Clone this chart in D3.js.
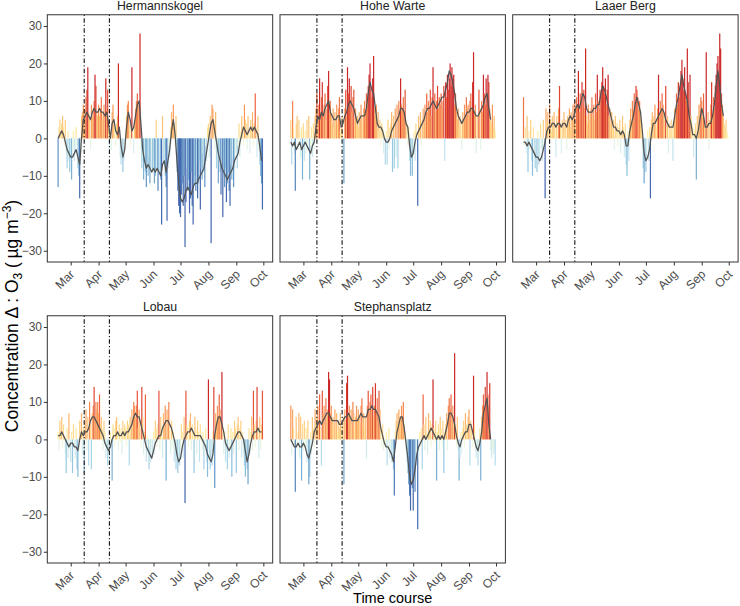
<!DOCTYPE html>
<html><head><meta charset="utf-8">
<script src="https://cdn.jsdelivr.net/npm/d3@7"></script>
<style>body{margin:0;background:#fff}svg{display:block;font-family:"Liberation Sans",Arial,sans-serif}</style>
</head><body><svg id="c" width="740" height="606"></svg>
<script>
const stations = ["Hermannskogel", "Hohe Warte", "Laaer Berg", "Lobau", "Stephansplatz"];
const firstDay = "2020-02-16";           // daily bars start here (one value per day)
const trendStepDays = 2;                 // trend values are read every 2nd day
const monthLabels = ["Mar", "Apr", "May", "Jun", "Jul", "Aug", "Sep", "Oct"];
const monthTickDays = ["2020-03-01","2020-04-01","2020-05-01","2020-06-01","2020-07-01","2020-08-01","2020-09-01","2020-10-01"];
const yTickValues = [-30, -20, -10, 0, 10, 20, 30];
const lockdownDays = ["2020-03-16", "2020-04-13"];
const xTitle = "Time course";

const hermannskogel = [
 -13,3,5,2,4,6,3,-2,5,-4,-8,2,-6,-9,
 -5,-11,-3,2,-6,-4,3,-2,-8,-10,-16,-5,6,7,9,4,8,11,13,19,7,5,-3,9,6,8,10,17,14,7,6,
 9,6,8,11,5,7,9,6,16,8,13,3,-4,2,-3,7,9,5,3,-2,4,6,20,3,-5,-7,-2,-9,-6,-3,
 2,6,9,10,4,-2,3,19,2,-4,5,8,10,12,9,7,28,-3,-8,-6,-11,-4,-9,-13,-7,-10,-5,-12,-8,-3,-9,
 -6,-12,-10,5,-8,-14,-9,-5,-11,-23,6,-7,-3,-10,-13,-22,-8,-2,-5,3,7,5,9,4,-2,6,-9,-14,-18,-20,
 -21,-15,-12,-18,-10,-29,-17,-8,-14,-11,-20,-16,-9,-18,-23,-12,-10,-14,-7,-16,-12,-6,-19,-8,-11,-4,-9,-13,-2,-6,3,
 4,-5,6,-28,9,8,5,-3,7,-8,-4,-12,-6,-9,-15,-7,-21,-10,-13,-8,-17,-12,-9,-14,-18,-7,-11,-5,-13,-8,-4,
 -3,-8,-2,4,-5,2,6,3,-2,9,5,4,-3,6,2,-4,5,3,7,-2,4,12,3,-5,6,-3,-7,-10,-12,-19
];
const hoheWarte = [
 5,-7,10,3,-4,-14,4,6,-3,5,2,-5,3,-11,
 4,-6,2,-4,5,-3,6,-11,-2,3,-5,4,-3,6,8,12,5,9,16,7,11,15,6,9,12,5,8,14,18,7,10,
 6,4,8,3,7,5,9,4,8,11,2,3,6,-4,-12,8,13,6,19,12,16,9,14,7,11,13,5,8,4,6,
 3,7,5,9,6,4,8,10,7,12,9,14,17,20,13,11,16,22,8,6,9,3,7,2,5,-2,4,3,-4,1,-7,
 2,-7,5,-3,3,4,7,-9,6,-8,8,-5,9,-8,10,7,16,9,8,11,7,13,5,4,-2,3,-6,-10,-4,-10,
 -3,2,-6,4,1,-18,6,3,7,-2,5,8,4,9,6,12,7,10,8,13,6,11,19,9,12,7,10,14,8,11,9,
 12,8,10,14,-6,15,11,17,13,16,20,14,19,16,17,9,12,7,5,8,3,6,4,-3,7,5,9,6,11,8,9,
 6,10,12,8,15,23,7,9,-4,6,4,13,8,-3,10,7,17,12,9,16,11,17,15,8,5,4,9,3,6,2
];
const laaerBerg = [
 11,-2,3,-4,6,-9,2,-3,5,-6,-10,3,-5,-8,
 -4,-9,2,-7,-5,4,-3,-6,5,-2,-16,8,4,7,3,9,5,2,6,4,7,3,-5,6,2,8,14,4,-4,5,3,
 7,2,5,-3,6,4,8,3,7,5,9,6,10,4,11,9,18,7,12,10,15,9,13,8,24,6,4,9,5,7,
 8,11,6,9,5,12,7,17,10,8,13,11,15,19,14,12,16,9,13,17,6,8,4,7,3,5,-3,6,2,4,-2,
 3,5,-4,2,6,3,-5,4,-7,-10,2,-6,5,8,4,10,7,12,9,14,13,11,8,10,6,4,-3,-8,-12,-5,
 -9,-4,2,-6,3,-16,5,7,6,4,9,5,3,8,17,6,10,8,12,9,7,5,14,3,6,-4,4,2,5,3,-6,
 4,8,6,12,9,15,11,14,18,21,16,13,19,12,10,24,15,8,17,6,4,3,-5,2,4,-11,6,3,9,7,11,
 10,6,12,5,3,23,4,7,-3,5,9,15,6,11,8,14,17,20,22,16,28,24,12,9,6,4,3,5,2,1
];
const lobau = [
 2,-3,5,3,6,-2,4,1,-4,-9,3,-5,7,-3,
 -6,2,-9,4,-2,-5,3,-8,-10,-3,5,2,7,-4,3,-9,5,8,-3,6,-7,10,4,-8,7,9,14,6,10,8,10,
 7,12,4,6,3,-3,5,2,-5,-3,-7,-4,-6,2,-2,-11,4,3,-2,5,6,2,-3,4,-1,3,-4,5,2,4,
 3,-2,5,4,-7,6,3,8,5,10,9,6,9,13,3,8,5,-2,14,6,-4,2,12,-6,1,-4,-8,-2,-6,-3,-5,
 2,-4,5,3,-2,4,13,-3,6,2,-5,7,4,9,-11,8,6,10,3,-4,5,-2,2,-6,-3,-8,-5,-9,-4,-7,
 -3,4,2,-5,6,-17,13,4,3,-2,5,7,-3,4,2,-9,6,3,-4,5,2,-6,4,1,-3,2,-8,-4,3,-6,-10,
 16,-5,-8,-3,-7,2,14,-13,7,5,9,6,12,8,4,18,3,-4,2,-6,-3,-8,4,-5,-2,3,-10,2,-4,5,3,
 -9,4,6,-3,3,5,-5,2,-4,-7,-10,-5,-8,-12,3,-4,2,6,-3,13,4,-2,5,14,3,-5,6,-3,4,13
];
const stephansplatz = [
 9,-4,8,3,-2,-14,6,-3,2,7,-5,6,-11,4,
 -3,5,-2,3,-6,5,-12,-10,2,-4,6,3,-2,8,4,6,9,5,12,3,-7,13,7,9,4,11,6,8,18,16,7,
 9,5,6,3,8,4,7,2,5,3,7,2,4,6,-12,8,5,15,17,7,9,6,8,4,10,7,3,6,9,5,
 8,6,4,9,11,5,7,3,6,-5,9,13,7,10,12,8,14,6,9,15,7,11,5,13,8,3,-2,4,-3,-1,-2,
 2,-7,-3,3,-5,-1,-6,-4,-8,-15,2,5,7,4,8,6,5,9,6,10,4,2,-3,-6,-9,-12,-15,-19,-8,-13,
 -19,-10,-14,-7,-3,-24,-5,2,-2,3,-8,12,4,-3,6,2,-4,7,3,5,-2,4,16,3,-1,5,-11,2,4,-3,6,
 3,-2,5,-9,2,4,7,-3,9,11,8,12,6,9,5,23,4,-2,6,-3,-11,-5,2,-4,3,5,-2,7,4,2,6,
 8,-7,5,3,-2,17,4,-3,-5,-2,-7,-4,3,-11,6,9,12,8,14,10,18,12,9,15,-3,-5,-2,-4,-3,-7
];

const hermannskogelTrend = [
 0,1,2,1,-1,-3,-4,-5,-5,-4, -3,-5,-7,0,5,6,7,6,5,7, 8,7,7,8,7,7,6,7,4,0,
 4,5,2,1,3,-2,-5,-3,3,7, 5,2,3,6,9,10,4,-3,-6,-8, -7,-8,-9,-8,-9,-8,-9,-10,-7,-6,
 -9,-6,-3,2,5,1,-6,-12,-16,-17, -16,-14,-13,-14,-15,-13,-12,-12,-11,-10, -9,-8,-5,-2,1,4,5,2,-1,-4,
 -6,-8,-9,-10,-11,-10,-9,-8,-6,-5, -4,-1,1,3,2,1,2,3,2,3, 2,1,-2,-6
];
const hoheWarteTrend = [
 -1,-2,-1,-3,-2,-1,-3,-2,-1,-2, -3,-4,-2,-1,3,6,5,7,6,8, 9,10,7,6,5,5,6,6,3,4,
 6,7,9,10,9,8,6,4,5,6, 6,6,8,12,15,13,12,8,4,3, 3,2,0,-1,-1,0,2,3,4,5,
 6,8,8,7,4,3,-2,-5,-4,-1, 1,2,3,4,5,7,8,8,9,10, 9,8,9,10,11,11,13,15,18,17,
 15,12,8,6,5,4,5,6,7,7, 8,8,7,6,6,7,8,9,11,12, 8,5,null,null
];
const laaerBergTrend = [
 -1,-1,-2,-1,-2,-3,-4,-5,-5,-6, -5,-3,-1,2,3,3,4,4,3,4, 4,3,4,4,3,5,6,5,6,8,
 9,8,10,12,11,8,7,7,7,8, 8,9,9,12,14,13,11,9,7,5, 3,3,2,2,1,2,1,-2,-2,2,
 4,6,9,11,9,7,2,-4,-6,-5, -3,1,4,4,5,6,7,8,7,5, 4,3,3,3,6,9,11,14,17,14,
 12,10,6,4,1,1,0,2,5,8, 6,3,3,4,4,6,9,14,18,14, 9,6,null,null
];
const lobauTrend = [
 1,1,2,1,0,-1,-2,-1,-1,-2, -2,-3,0,2,1,2,2,3,5,6, 6,5,4,3,2,1,-1,-2,-3,-2,
 0,1,1,2,1,1,2,1,2,2, 3,4,6,7,6,6,4,2,0,-2, -3,-4,-5,-3,-1,0,1,1,3,4,
 5,5,4,3,1,-1,-4,-6,-5,-2, 0,1,2,2,3,2,1,1,1,1, 0,-1,-2,-4,-5,-6,-4,1,4,6,
 6,4,2,-1,-2,-3,-2,-1,0,1, 2,2,1,0,-3,-6,-4,-1,1,2, 2,3,2,2
];
const stephansplatzTrend = [
 0,-1,-2,-2,-1,-2,-2,-1,-2,-4, -5,-3,-1,2,3,4,5,4,5,6, 7,7,6,5,5,5,5,4,4,5,
 6,6,7,6,5,5,5,5,6,7, 6,6,6,8,8,9,8,8,7,6, 3,1,-1,-2,-2,-3,-4,-6,-2,2,
 4,6,6,3,-1,-5,-10,-12,-11,-8, -4,-2,-1,0,1,0,1,2,3,2, 1,0,1,0,1,0,2,4,7,7,
 6,4,1,-1,-2,0,1,2,2,4, 4,2,0,-2,-3,-1,2,7,9,11, 4,0,null,null
];

const series = [hermannskogel, hoheWarte, laaerBerg, lobau, stephansplatz];
const trends = [hermannskogelTrend, hoheWarteTrend, laaerBergTrend, lobauTrend, stephansplatzTrend];

// ---- layout ----
const W = 225.4, H = 247.25;
const lefts = [47.3, 280, 512.7], tops = [14.75, 315.75];
const svg = d3.select("#c");
const parse = d3.utcParse("%Y-%m-%d");
const t0 = parse(firstDay);
const DAY = 864e5;
const dayDate = i => new Date(t0.getTime() + i * DAY);

const x = d3.scaleUtc().domain([dayDate(-12), dayDate(238.4)]).range([0, W]);
const y = d3.scaleLinear().domain([-33, 33]).range([H, 0]);
const color = d3.scaleDiverging(t => d3.interpolateRdYlBu(0.92 - 0.84 * t)).domain([-16, 0, 16]).clamp(true);
const bw = x(dayDate(1)) - x(dayDate(0));
const monthTicks = monthTickDays.map(parse);

stations.forEach((name, k) => {
  const col = k % 3, row = Math.floor(k / 3);
  const g = svg.append("g").attr("transform", `translate(${lefts[col]},${tops[row]})`);

  g.append("text").attr("x", W / 2).attr("y", -4.6).attr("text-anchor", "middle")
    .attr("font-size", 12.3).attr("font-weight", "normal").attr("fill", "#222").text(name);

  const bars = series[k].map((v, i) => ({ date: dayDate(i), v }));
  g.append("g").selectAll("rect").data(bars).join("rect")
    .attr("x", d => x(d.date) - bw / 2 - 0.15).attr("width", bw + 0.3)
    .attr("y", d => y(Math.max(0, d.v)))
    .attr("height", d => Math.abs(y(d.v) - y(0)))
    .attr("fill", d => color(d.v));

  g.append("g").selectAll("line").data(lockdownDays.map(parse)).join("line")
    .attr("x1", d => x(d)).attr("x2", d => x(d)).attr("y1", 0).attr("y2", H)
    .attr("stroke", "#111").attr("stroke-width", 1.1).attr("stroke-dasharray", "1.2,2.2,4.5,2.2");

  const tr = trends[k].map((v, i) => ({ date: dayDate(i * trendStepDays), v }));
  g.append("path").datum(tr)
    .attr("d", d3.line().defined(d => d.v != null).x(d => x(d.date)).y(d => y(d.v)))
    .attr("fill", "none").attr("stroke", "#525252").attr("stroke-width", 1.25).attr("stroke-linejoin", "round");

  g.append("rect").attr("width", W).attr("height", H).attr("fill", "none")
    .attr("stroke", "#333").attr("stroke-width", 1);

  const ax = g.append("g").attr("transform", `translate(0,${H})`)
    .call(d3.axisBottom(x).tickValues(monthTicks).tickFormat((d, i) => monthLabels[i]).tickSize(3.5));
  ax.select(".domain").remove();
  ax.selectAll("line").attr("stroke", "#333");
  ax.selectAll("text").attr("x", 0).attr("y", 0).attr("dy", null)
    .attr("text-anchor", "end").attr("font-size", 12.2).attr("fill", "#4d4d4d")
    .attr("font-family", null)
    .attr("transform", "translate(4,13) rotate(-45)");

  if (col === 0) {
    const ay = g.append("g").call(d3.axisLeft(y).tickValues(yTickValues).tickSize(3.5).tickPadding(1.8));
    ay.select(".domain").remove();
    ay.selectAll("line").attr("stroke", "#333");
    ay.selectAll("text").attr("font-size", 12).attr("fill", "#4d4d4d").attr("font-family", null);
  }
});

svg.append("text").attr("x", (lefts[0] + lefts[2] + W) / 2).attr("y", 603)
  .attr("text-anchor", "middle").attr("font-size", 14.5).attr("fill", "#000").text(xTitle);

const yt = svg.append("text").attr("transform", `translate(18,316) rotate(-90)`)
  .attr("text-anchor", "middle").attr("font-size", 17.5).attr("fill", "#000");
yt.append("tspan").text("Concentration \u0394 : O");
yt.append("tspan").attr("dy", 4).attr("font-size", 12).text("3");
yt.append("tspan").attr("dy", -4).text("  (\u2009\u00b5g  m");
yt.append("tspan").attr("dy", -7).attr("font-size", 12).text("\u22123");
yt.append("tspan").attr("dy", 7).text(")");
</script>
</body></html>
